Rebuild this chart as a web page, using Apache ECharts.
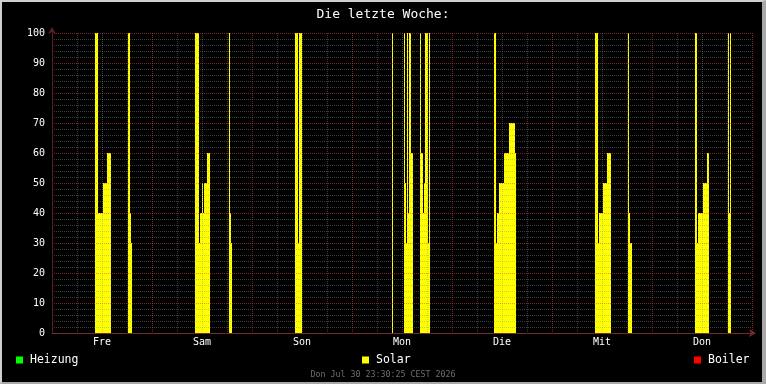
<!DOCTYPE html>
<html>
<head>
<meta charset="utf-8">
<script src="https://cdn.jsdelivr.net/npm/echarts@6/dist/echarts.min.js"></script>
<style>
  html, body { margin: 0; padding: 0; background: #000; }
  #wrap { position: relative; width: 766px; height: 384px; }
  #chart { width: 766px; height: 384px; }
  #frame { position: absolute; left: 0; top: 0; width: 766px; height: 384px; box-sizing: border-box;
           border-style: solid; border-width: 2px 4px 2px 2px;
           border-color: #cfcfcf #a8a8a8 #a8a8a8 #cfcfcf; pointer-events: none; }
</style>
</head>
<body>
<div id="wrap"><div id="chart"></div><div id="frame"></div></div>
<script>
// Day labels (centred at noon of each day); x in hours since Fri 00:00
const dayLabels = ['Fre', 'Sam', 'Son', 'Mon', 'Die', 'Mit', 'Don'];

// Solar: step values, each value holds from its time until the next time
const solarTimes = [0,
  10.32, 11.04, 12.24, 13.2, 14.16, 18.24, 18.72, 18.96, 19.2,
  34.32, 35.28, 35.52, 36, 36.24, 36.48, 37.2, 37.92, 42.48, 42.72, 42.96, 43.2,
  58.32, 59.04, 59.28, 60,
  81.6, 81.84, 84.48, 84.72, 84.96, 85.2, 85.44, 85.68, 86.16, 86.64, 88.32, 88.56, 89.04, 89.28, 89.52, 90.24, 90.48, 90.72,
  106.08, 106.56, 106.8, 107.28, 108.48, 109.68, 111.12, 111.36,
  130.32, 131.04, 131.28, 132.24, 133.2, 134.16, 138.24, 138.48, 138.72, 139.2,
  154.32, 154.8, 155.04, 156.24, 157.2, 157.68, 162.24, 162.48, 162.72, 162.96,
  168];
const solarValues = [0,
  100, 40, 50, 60, 0, 100, 40, 30, 0,
  100, 30, 40, 50, 40, 50, 60, 0, 100, 40, 30, 0,
  100, 30, 100, 0,
  100, 0, 100, 50, 30, 100, 40, 100, 60, 0, 100, 60, 40, 50, 100, 30, 100, 0,
  100, 30, 40, 50, 60, 70, 60, 0,
  100, 30, 40, 50, 60, 0, 100, 40, 30, 0,
  100, 30, 40, 50, 60, 0, 100, 40, 100, 0,
  0];

// Heizung and Boiler: no visible data in this week
const heizungValues = [];
const boilerValues = [];

const footerText = 'Don Jul 30 23:30:25 CEST 2026';

const MONO = 'DejaVu Sans Mono';

// Step segments: [start, end, value]
const solarSegments = [];
for (let i = 0; i + 1 < solarTimes.length; i++) {
  if (solarValues[i] > 0) solarSegments.push([solarTimes[i], solarTimes[i + 1], solarValues[i]]);
}

function stepRender(color) {
  return function (params, api) {
    const p0 = api.coord([api.value(0), api.value(2)]);
    const p1 = api.coord([api.value(1), 0]);
    return {
      type: 'rect',
      shape: { x: p0[0], y: p0[1], width: p1[0] - p0[0], height: p1[1] - p0[1] },
      style: { fill: color }
    };
  };
}

const chart = echarts.init(document.getElementById('chart'), null, { renderer: 'canvas' });

function legendFor(name, left) {
  return {
    data: [name], left: left, top: 353, padding: 0,
    icon: 'rect', itemWidth: 7, itemHeight: 7,
    selectedMode: false,
    textStyle: { color: '#ffffff', fontFamily: MONO, fontSize: 11.5, padding: [0, 0, 0, 2], lineHeight: 14 }
  };
}

const GRID_MINOR = 'rgba(143,143,143,0.42)';
const GRID_MAJOR = 'rgba(222,66,66,0.55)';

chart.setOption({
  backgroundColor: '#000000',
  animation: false,
  title: [
    { text: 'Die letzte Woche:', left: 'center', top: 3,
      textStyle: { color: '#ffffff', fontFamily: MONO, fontSize: 13, fontWeight: 'normal' } },
    { text: footerText, left: 'center', top: 366,
      textStyle: { color: '#6e6e6e', fontFamily: MONO, fontSize: 8.3, fontWeight: 'normal' } }
  ],
  legend: [legendFor('Heizung', 16), legendFor('Solar', 362), legendFor('Boiler', 694)],
  grid: { left: 52, right: 14, top: 33, bottom: 51, containLabel: false },
  xAxis: {
    type: 'value', min: 0, max: 168, interval: 12, z: 5,
    axisLine: { show: true, lineStyle: { color: '#7a2a2a', width: 1 },
                symbol: ['none', 'arrow'], symbolSize: [6, 7], symbolOffset: [0, 4] },
    axisTick: { show: false },
    minorTick: { show: false, splitNumber: 2 },
    axisLabel: {
      color: '#ffffff', fontFamily: MONO, fontSize: 10, margin: 4,
      showMinLabel: true, showMaxLabel: true,
      formatter: v => (v % 24 === 12) ? dayLabels[(v - 12) / 24] : ''
    },
    splitLine: { show: true, lineStyle: { color: [GRID_MAJOR, GRID_MINOR], type: [1, 1], width: 1 } },
    minorSplitLine: { show: true, lineStyle: { color: GRID_MINOR, type: [1, 1], width: 1 } }
  },
  yAxis: {
    type: 'value', min: 0, max: 100, interval: 10, z: 5,
    axisLine: { show: true, lineStyle: { color: '#5a2020', width: 1 },
                symbol: ['none', 'arrow'], symbolSize: [6, 7], symbolOffset: [0, 6] },
    axisTick: { show: false },
    minorTick: { show: false, splitNumber: 5 },
    axisLabel: { color: '#ffffff', fontFamily: MONO, fontSize: 10, margin: 7 },
    splitLine: { show: true, lineStyle: { color: GRID_MAJOR, type: [1, 1], width: 1 } },
    minorSplitLine: { show: true, lineStyle: { color: GRID_MINOR, type: [1, 1], width: 1 } }
  },
  series: [
    { name: 'Heizung', type: 'custom', data: heizungValues, color: '#00ff00',
      renderItem: stepRender('#00ff00'), encode: { x: [0, 1], y: 2 } },
    { name: 'Solar', type: 'custom', data: solarSegments, color: '#ffff00',
      renderItem: stepRender('#ffff00'), encode: { x: [0, 1], y: 2 }, silent: true },
    { name: 'Boiler', type: 'custom', data: boilerValues, color: '#ff0000',
      renderItem: stepRender('#ff0000'), encode: { x: [0, 1], y: 2 } }
  ]
});
</script>
</body>
</html>
